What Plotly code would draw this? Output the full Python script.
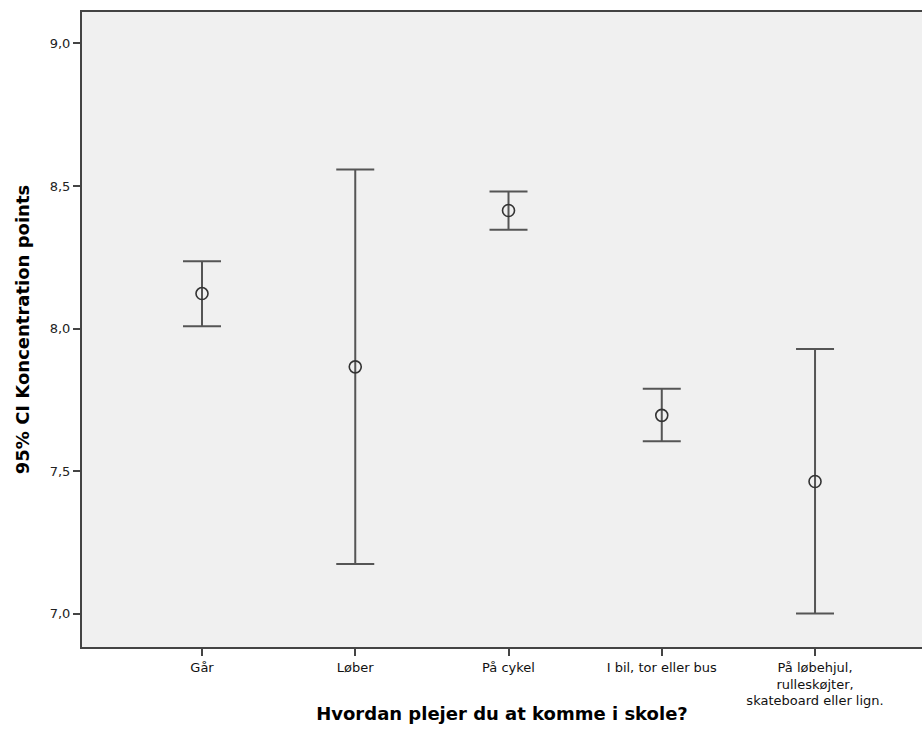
import plotly.graph_objects as go

categories = ["Går", "Løber", "På cykel", "I bil, tor eller bus",
              "På løbehjul,<br>rulleskøjter,<br>skateboard eller lign."]
means = [8.123, 7.866, 8.414, 7.696, 7.464]
lower = [8.008, 7.175, 8.347, 7.605, 7.001]
upper = [8.236, 8.558, 8.481, 7.789, 7.929]
y_ticks = [7.0, 7.5, 8.0, 8.5, 9.0]

err_plus = [u - m for u, m in zip(upper, means)]
err_minus = [m - l for m, l in zip(means, lower)]

line_col = "#444444"
FONT = "DejaVu Sans, Liberation Sans, Arial, sans-serif"

fig = go.Figure()
fig.add_trace(go.Scatter(
    x=categories, y=means, mode="markers",
    marker=dict(symbol="circle-open", size=12, color="#333333",
                line=dict(width=1.6, color="#333333")),
    error_y=dict(type="data", symmetric=False, array=err_plus,
                 arrayminus=err_minus, width=19, thickness=2,
                 color="#555555"),
    showlegend=False, hoverinfo="skip",
))

fig.update_layout(
    width=922, height=749,
    margin=dict(l=82, r=0, t=12, b=102),
    paper_bgcolor="white", plot_bgcolor="#f0f0f0",
    separators=",.",
    font=dict(family=FONT, color="#000000"),
)
fig.update_xaxes(
    type="category", range=[-0.783, 4.698],
    showgrid=False, zeroline=False,
    showline=True, mirror=True, linecolor=line_col, linewidth=2,
    ticks="outside", ticklen=7, tickwidth=1.5, tickcolor=line_col,
    tickfont=dict(size=13, color="#111111"),
    title=dict(text="<b>Hvordan plejer du at komme i skole?</b>",
               font=dict(size=18), standoff=0),
)
fig.update_yaxes(
    range=[6.884, 9.11], tickvals=y_ticks, tickformat=".1f",
    showgrid=False, zeroline=False,
    showline=True, linecolor=line_col, linewidth=2,
    ticks="outside", ticklen=7, tickwidth=1.5, tickcolor=line_col,
    tickfont=dict(size=13, color="#222222"),
    title=dict(text="<b>95% CI Koncentration points</b>",
               font=dict(size=18), standoff=15),
)

fig.write_html("out.html",
               config={"displayModeBar": False},
               post_script="document.body.style.margin='0';"
                           "document.body.style.overflow='hidden';")
